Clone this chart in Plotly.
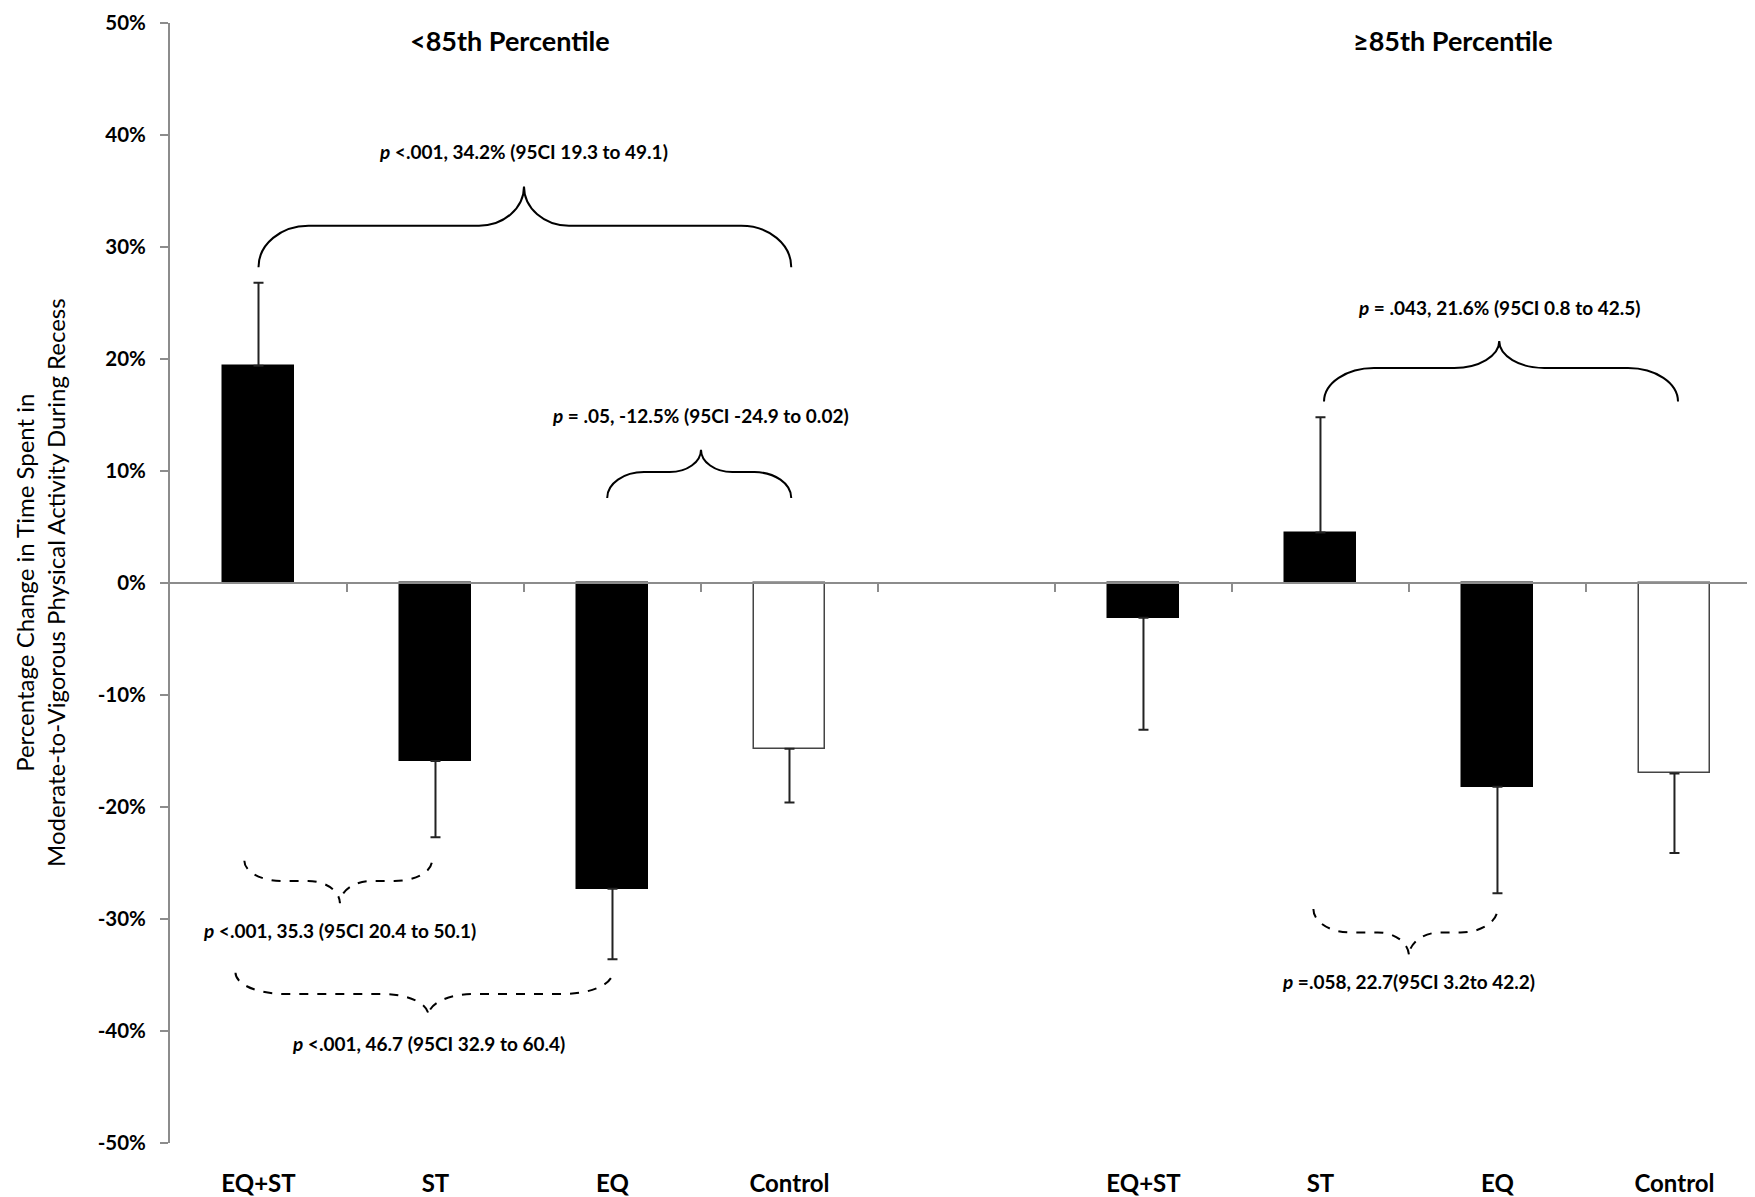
import plotly.graph_objects as go

# ---------------- data ----------------
categories = ["EQ+ST", "ST", "EQ", "Control", "EQ+ST", "ST", "EQ", "Control"]
positions = [0, 1, 2, 3, 5, 6, 7, 8]
group_titles = ["<85th Percentile", "≥85th Percentile"]
group_title_x = [1.42, 6.75]

mean_change = [19.4, -15.9, -27.3, -14.8, -3.1, 4.5, -18.2, -17.0]
err_plus = [7.4, 0, 0, 0, 0, 10.3, 0, 0]
err_minus = [0, 6.8, 6.3, 4.8, 10.0, 0, 9.5, 7.1]
is_control = [False, False, False, True, False, False, False, True]

y_tick_vals = [50, 40, 30, 20, 10, 0, -10, -20, -30, -40, -50]
y_tick_text = ["50%", "40%", "30%", "20%", "10%", "0%", "-10%", "-20%", "-30%", "-40%", "-50%"]

# comparison braces
brace_x_left = [0.0, 1.97, 6.02, -0.08, -0.13, 5.96]
brace_x_right = [3.01, 3.01, 8.02, 0.98, 2.0, 7.0]
brace_x_tip = [1.5, 2.5, 7.01, 0.46, 0.96, 6.5]
brace_y_end = [28.2, 7.6, 16.2, -24.8, -34.8, -29.1]
brace_y_line = [31.9, 9.9, 19.2, -26.6, -36.7, -31.2]
brace_y_tip = [35.4, 11.9, 21.6, -28.6, -38.6, -33.3]
brace_dashed = [False, False, False, True, True, True]
brace_text = [
    "<i>p</i> &lt;.001, 34.2% (95CI 19.3 to 49.1)",
    "<i>p</i> = .05, -12.5% (95CI -24.9 to 0.02)",
    "<i>p</i> = .043, 21.6% (95CI 0.8 to 42.5)",
    "<i>p</i> &lt;.001, 35.3 (95CI 20.4 to 50.1)",
    "<i>p</i> &lt;.001, 46.7 (95CI 32.9 to 60.4)",
    "<i>p</i> =.058, 22.7(95CI 3.2to 42.2)",
]
brace_text_y = [38.5, 15.0, 24.6, -31.0, -41.1, -35.6]

# ---------------- layout geometry ----------------
# the page body has an 8px margin, so the figure is offset by 8px
W, H = 1747, 1189
ML, MR, MT, MB = 162, 0, 15, 51
X_RANGE = [-0.5, 8.455]
Y_RANGE = [-50, 50]
px_per_x = (W - ML - MR) / (X_RANGE[1] - X_RANGE[0])
px_per_y = (H - MT - MB) / (Y_RANGE[1] - Y_RANGE[0])

FONT = "Lato, 'Open Sans', sans-serif"
AXIS_GREY = "#8c8c8c"

fig = go.Figure()

bar_fill = ["white" if c else "black" for c in is_control]
bar_line = ["#444444" if c else "black" for c in is_control]

fig.add_trace(go.Bar(
    x=positions, y=mean_change, width=0.405,
    marker=dict(color=bar_fill, line=dict(color=bar_line, width=1.5)),
    error_y=dict(type="data", symmetric=False, array=err_plus, arrayminus=err_minus,
                 color="#222222", thickness=2, width=5),
    showlegend=False, hoverinfo="skip",
))

shapes = []
shapes.append(dict(type="line", xref="paper", yref="y", x0=0, x1=1, y0=0, y1=0,
                   line=dict(color=AXIS_GREY, width=2.2), layer="above"))
tick_len = 9 / px_per_y
for i in range(8):
    xb = i + 0.5
    shapes.append(dict(type="line", xref="x", yref="y", x0=xb, x1=xb, y0=0, y1=-tick_len,
                       line=dict(color=AXIS_GREY, width=2), layer="above"))


def brace_path(x0, x1, xt, ye, yl, yt, corner_px, tip_px):
    k = 0.552
    cx = corner_px / px_per_x
    tx = tip_px / px_per_x
    d1 = yl - ye
    d2 = yt - yl
    p = []
    p.append(f"M{x0},{ye}")
    p.append(f"C{x0},{ye + k * d1} {x0 + cx - k * cx},{yl} {x0 + cx},{yl}")
    p.append(f"L{xt - tx},{yl}")
    p.append(f"C{xt - tx + k * tx},{yl} {xt},{yt - k * d2} {xt},{yt}")
    p.append(f"C{xt},{yt - k * d2} {xt + tx - k * tx},{yl} {xt + tx},{yl}")
    p.append(f"L{x1 - cx},{yl}")
    p.append(f"C{x1 - cx + k * cx},{yl} {x1},{ye + k * d1} {x1},{ye}")
    return " ".join(p)


annotations = []
for i in range(len(brace_x_left)):
    span_px = (brace_x_right[i] - brace_x_left[i]) * px_per_x
    corner = min(50, span_px * 0.2)
    tip = min(45, span_px * 0.17)
    shapes.append(dict(
        type="path", xref="x", yref="y",
        path=brace_path(brace_x_left[i], brace_x_right[i], brace_x_tip[i],
                        brace_y_end[i], brace_y_line[i], brace_y_tip[i], corner, tip),
        line=dict(color="black", width=2, dash="dash" if brace_dashed[i] else "solid"),
        layer="above",
    ))
    annotations.append(dict(
        x=brace_x_tip[i], y=brace_text_y[i], xref="x", yref="y",
        text="<b>" + brace_text[i] + "</b>", showarrow=False,
        xanchor="center", yanchor="middle",
        font=dict(family=FONT, size=19, color="black"),
    ))

for t, gx in zip(group_titles, group_title_x):
    annotations.append(dict(
        x=gx, y=48.4, xref="x", yref="y", text="<b>" + t + "</b>", showarrow=False,
        xanchor="center", yanchor="middle",
        font=dict(family=FONT, size=27, color="black"),
    ))

annotations.append(dict(
    x=(32 - ML) / (W - ML - MR), y=0.5, xref="paper", yref="paper",
    text="Percentage Change in Time Spent in<br>Moderate-to-Vigorous Physical Activity During Recess",
    showarrow=False, textangle=-90, xanchor="center", yanchor="middle",
    font=dict(family=FONT, size=24, color="black"),
))

fig.update_layout(
    width=W, height=H,
    margin=dict(l=ML, r=MR, t=MT, b=MB, pad=0),
    paper_bgcolor="white", plot_bgcolor="white",
    font=dict(family=FONT, color="black"),
    shapes=shapes, annotations=annotations,
    bargap=0,
)
fig.update_xaxes(
    range=X_RANGE, tickmode="array", tickvals=positions, ticktext=categories,
    showline=False, showgrid=False, zeroline=False, ticks="",
    tickfont=dict(family=FONT, size=24, color="black", weight="bold"),
    ticklabelstandoff=24,
)
fig.update_yaxes(
    range=Y_RANGE, tickmode="array", tickvals=y_tick_vals, ticktext=y_tick_text,
    showline=True, linecolor=AXIS_GREY, linewidth=2,
    ticks="outside", ticklen=8, tickwidth=2, tickcolor=AXIS_GREY,
    showgrid=False, zeroline=False,
    tickfont=dict(family=FONT, size=20.5, color="black", weight="bold"),
    ticklabelstandoff=10,
)

fig.write_html("out.html")
